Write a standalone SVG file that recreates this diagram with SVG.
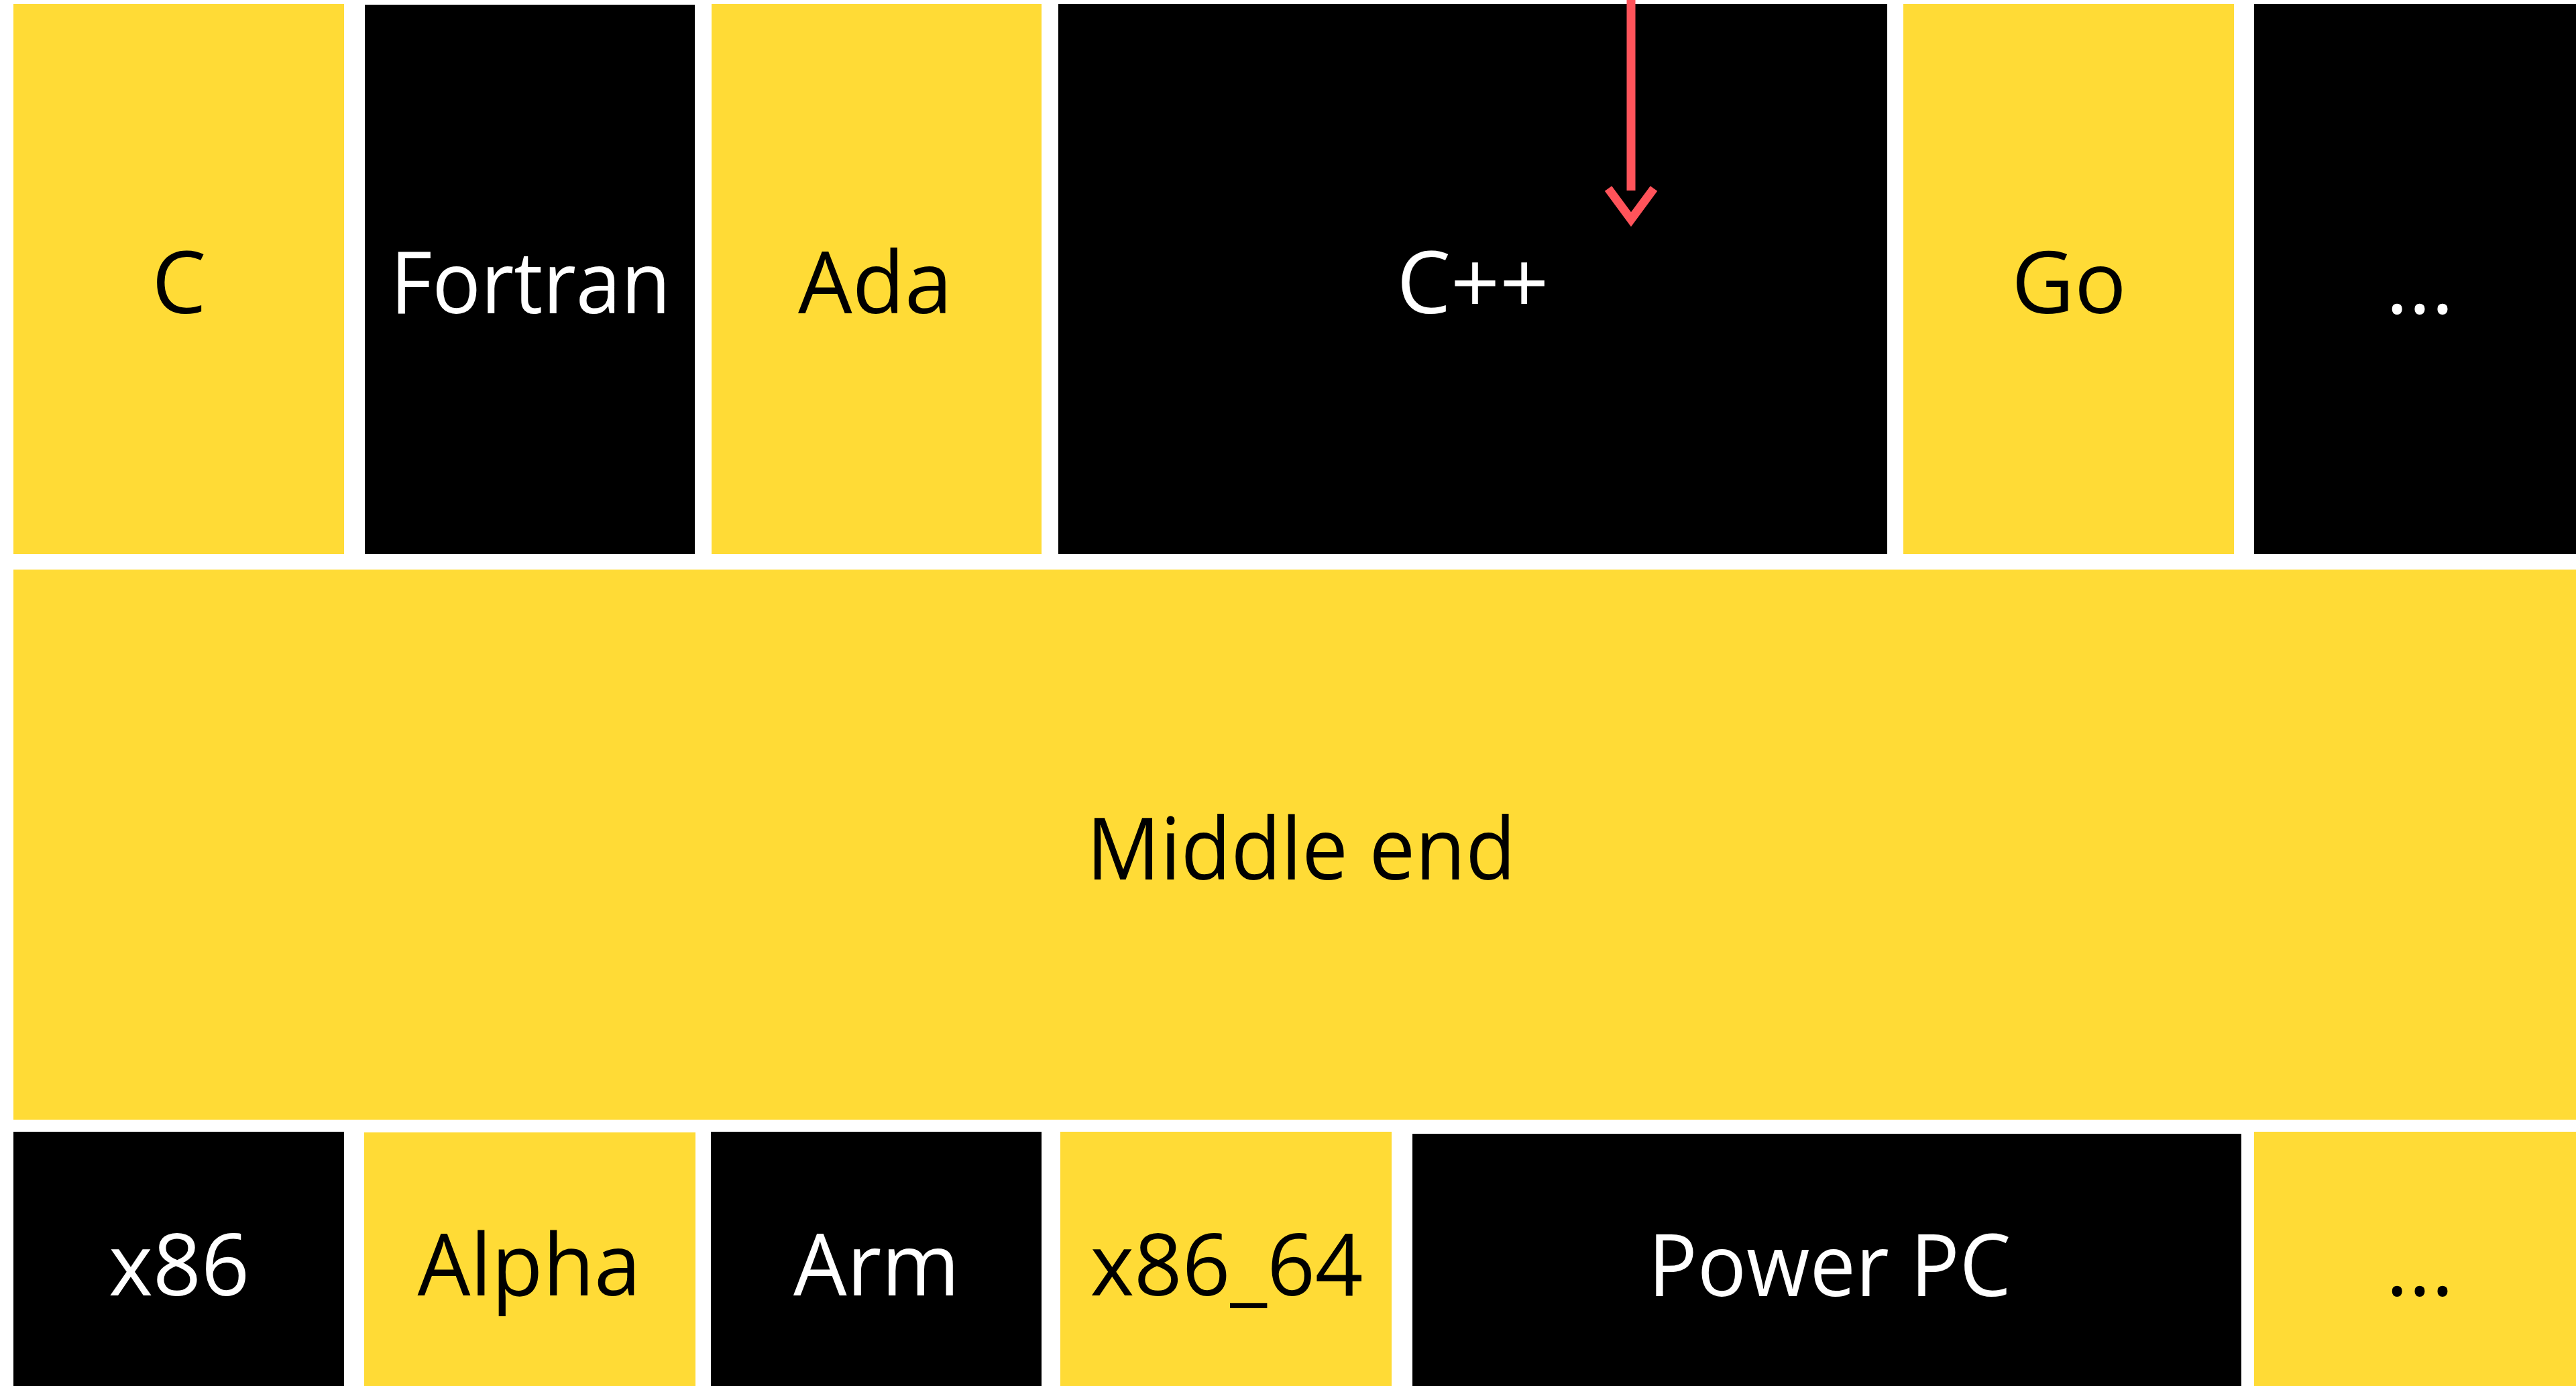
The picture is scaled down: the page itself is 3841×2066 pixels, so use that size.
<svg xmlns="http://www.w3.org/2000/svg" width="3841" height="2066" viewBox="0 0 3841 2066">
<style>
.y{fill:#FFDB36}
.k{fill:#000000}
.t{font-family:"Open Sans","Noto Sans","DejaVu Sans",sans-serif;font-size:129px;text-anchor:middle}
.tk{fill:#000000}
.tw{fill:#FFFFFF}
.arr{fill:none;stroke:#FF535A;stroke-width:13;stroke-linejoin:miter;stroke-linecap:butt}
</style>
<rect x="0" y="0" width="3841" height="2066" fill="#FFFFFF"/>
<g id="node-c"><rect class="y" x="20" y="6" width="493" height="820"/><text class="t tk" x="267" y="467">C</text></g>
<g id="node-fortran"><rect class="k" x="544" y="7" width="492" height="819"/><text class="t tw" x="791" y="467" textLength="418" lengthAdjust="spacingAndGlyphs">Fortran</text></g>
<g id="node-ada"><rect class="y" x="1061" y="6" width="492" height="820"/><text class="t tk" x="1305" y="467" textLength="230" lengthAdjust="spacingAndGlyphs">Ada</text></g>
<g id="node-cpp"><rect class="k" x="1578" y="6" width="1236" height="820"/><text class="t tw" x="2196" y="467" textLength="227" lengthAdjust="spacingAndGlyphs">C++</text></g>
<g id="node-go"><rect class="y" x="2838" y="6" width="493" height="820"/><text class="t tk" x="3085" y="467">Go</text></g>
<g id="node-more-top"><rect class="k" x="3361" y="6" width="492" height="820"/><text class="t tw" x="3608" y="467">...</text></g>
<g id="node-middle"><rect class="y" x="20" y="849" width="3840" height="820"/><text class="t tk" x="1940" y="1311" textLength="640" lengthAdjust="spacingAndGlyphs">Middle end</text></g>
<g id="node-x86"><rect class="k" x="20" y="1687" width="493" height="400"/><text class="t tw" x="267" y="1931" textLength="210" lengthAdjust="spacingAndGlyphs">x86</text></g>
<g id="node-alpha"><rect class="y" x="543" y="1688" width="494" height="400"/><text class="t tk" x="789" y="1931" textLength="333" lengthAdjust="spacingAndGlyphs">Alpha</text></g>
<g id="node-arm"><rect class="k" x="1060" y="1687" width="493" height="400"/><text class="t tw" x="1307" y="1931" textLength="248" lengthAdjust="spacingAndGlyphs">Arm</text></g>
<g id="node-x86_64"><rect class="y" x="1581" y="1687" width="494" height="400"/><text class="t tk" x="1829" y="1931" textLength="407" lengthAdjust="spacingAndGlyphs">x86_64</text></g>
<g id="node-powerpc"><rect class="k" x="2106" y="1690" width="1236" height="400"/><text class="t tw" x="2728" y="1932" textLength="541" lengthAdjust="spacingAndGlyphs">Power PC</text></g>
<g id="node-more-bottom"><rect class="y" x="3361" y="1687" width="492" height="400"/><text class="t tk" x="3608" y="1931">...</text></g>
<g id="connectors">
<line class="arr" x1="2432" y1="0" x2="2432" y2="284"/>
<polyline class="arr" points="2398,281 2432,327 2466,281"/>
</g>
</svg>
